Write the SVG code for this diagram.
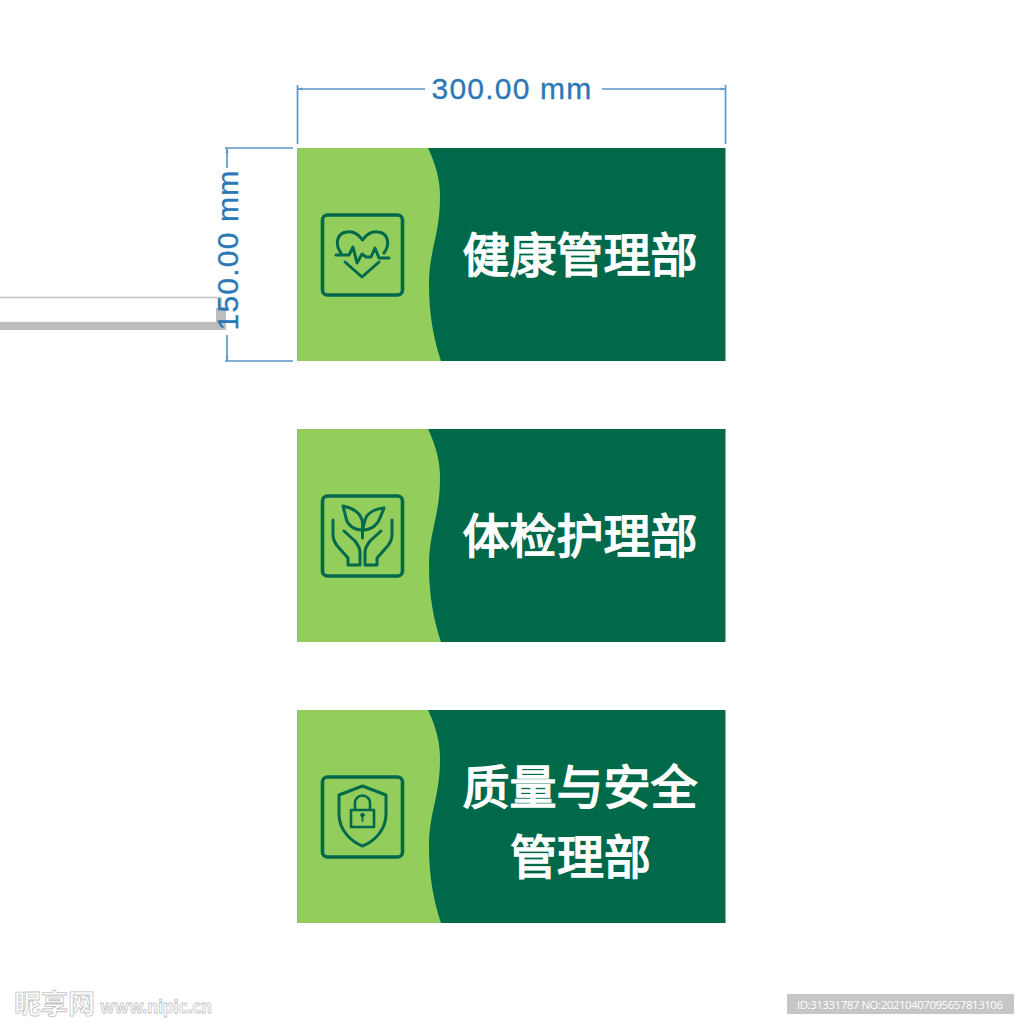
<svg xmlns="http://www.w3.org/2000/svg" width="1024" height="1024" viewBox="0 0 1024 1024">
<style>
.light{fill:#93cd5b}
.dark{fill:#00694a}
.ico{fill:none;stroke:#02694c;stroke-width:3;stroke-linecap:round;stroke-linejoin:round}
.box{fill:none;stroke:#02694c;stroke-width:3.6}
.t{font-family:"Noto Sans CJK SC","Noto Sans",sans-serif;font-size:47px;font-weight:400;fill:#fff;stroke:#fff;stroke-width:1.6;text-anchor:middle}
.dim{fill:none;stroke:#5b98c8;stroke-width:1.7}
.dt{font-family:"Liberation Sans",Arial,sans-serif;font-size:30px;fill:#2a78b6;stroke:#2a78b6;stroke-width:.3;text-anchor:middle;letter-spacing:1.2px}
.wm{font-family:"Noto Sans CJK SC","Liberation Sans",sans-serif;font-weight:700;fill:#fff;stroke:#c4c4c4;stroke-width:.8}
</style>
<defs>
<g id="panel">
<rect x="297.500" y="0" width="428" height="213" class="dark"/>
<path class="light" d="M297.500 0H428C436 17 440 32 440 49C440 87 429 102 429 137C429 167 434 192 441 213H297.500Z"/>
<rect x="322.500" y="67" width="80" height="80" rx="5" class="box"/>
</g>
</defs>
<rect width="1024" height="1024" fill="#fff"/>
<g id="stub">
<rect x="-2" y="297.500" width="223" height="25" fill="#fff" stroke="#c4c4c4" stroke-width="1.500"/>
<path d="M0 322.500H216V308H226V330H0Z" fill="#bdbdbd"/>
</g>
<g id="connectors">
<path class="dim" d="M297.500 144V85M725.500 144V85M297.500 89H425M602 89H725.500"/>
<path class="dim" d="M293 148H225M293 361H225M227 148V168M227 335V361"/>
<path d="M297.500 89l5-1.500v3zM725.500 89l-5-1.500v3zM227 148l-1.500 5h3zM227 361l-1.500-5h3z" fill="#5b98c8"/>
</g>
<text class="dt" x="512" y="99">300.00 mm</text>
<text class="dt" transform="translate(238 250) rotate(-90)">150.00 mm</text>
<g id="node-1" transform="translate(0 148)">
<use href="#panel"/>
<g class="ico" transform="translate(0 -148)">
<path d="M341 253C335 245 336 233 347 232C354 231 359 235 362.500 240C366 235 371 231 378 232C389 233 390 245 384 253"/>
<path d="M336 255H349L353 247L357 263L362 254L366 257H371L375 248L379 258H389"/>
<path d="M345 262L362 277L379 262"/>
</g>
<text class="t" x="580" y="124">健康管理部</text>
</g>
<g id="node-2" transform="translate(0 429)">
<use href="#panel"/>
<g class="ico" transform="translate(0 -429)">
<path d="M343 506C352 508 360 512 362 520C364 527 362 530 362 530C353 530 347 524 346 518C345 513 344 510 343 506Z"/>
<path d="M384 508C375 509 367 513 365 520C363 527 363 530 363 530C372 530 378 524 380 518C382 513 383 511 384 508Z"/>
<path d="M362.500 522V538"/>
<path d="M333 520V535C333 541 336 545 340 549L348 558V565H360V552C360 548 358 545 355 541L344 531"/>
<path d="M392 520V535C392 541 389 545 385 549L377 558V565H365V552C365 548 367 545 370 541L381 531"/>
</g>
<text class="t" x="580" y="124">体检护理部</text>
</g>
<g id="node-3" transform="translate(0 710)">
<use href="#panel"/>
<g class="ico" transform="translate(0 -710)">
<path d="M362.500 786L339 795V814C339 831 352 842 362.500 846C373 842 386 831 386 814V795Z"/>
<rect x="351" y="810" width="23" height="17" stroke-width="2.600"/>
<path d="M355 810V803A7.500 7.500 0 0 1 370 803V810" stroke-width="2.600"/>
<circle cx="362.500" cy="815" r="1.800" fill="#02694c" stroke-width="1"/>
<path d="M362.500 816V821" stroke-width="1.800"/>
</g>
<text class="t" x="580" y="94">质量与安全</text>
<text class="t" x="580.500" y="164">管理部</text>
</g>
<g id="watermark">
<text class="wm" x="14" y="1014" font-size="27">昵享网</text>
<text class="wm" x="100" y="1013" font-size="17" stroke-width=".7" textLength="112" font-family="Liberation Sans">www.nipic.cn</text>
<rect x="787" y="994" width="227" height="20" fill="#c6c6c6"/>
<text x="797" y="1009" font-family="Open Sans,Noto Sans,sans-serif" font-size="11.500" fill="#fff" textLength="206">ID:31331787 NO:20210407095657813106</text>
</g>
</svg>
